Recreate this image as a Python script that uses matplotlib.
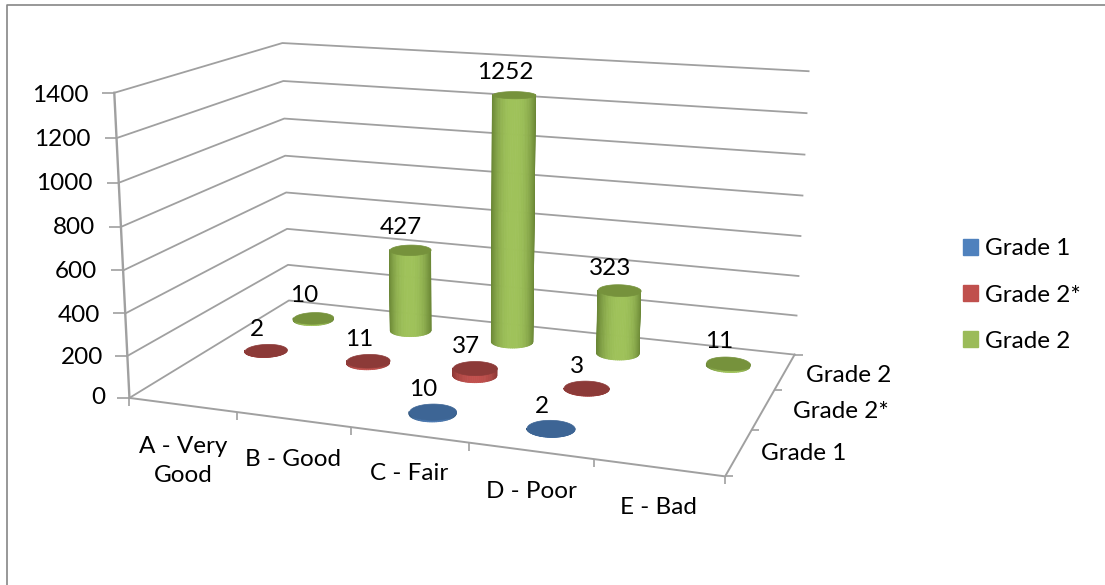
import numpy as np
import matplotlib
matplotlib.use("Agg")
import matplotlib.pyplot as plt
from matplotlib.colors import to_rgb
from matplotlib.lines import Line2D
from matplotlib.patches import Patch
from mpl_toolkits.mplot3d import proj3d
from mpl_toolkits.mplot3d.art3d import Poly3DCollection

plt.rcParams["font.family"] = ["Lato", "DejaVu Sans"]

categories = ["A - Very\nGood", "B - Good", "C - Fair", "D - Poor", "E - Bad"]
series_names = ["Grade 1", "Grade 2*", "Grade 2"]
grade_1 = [None, None, 10, 2, None]
grade_2_star = [2, 11, 37, 3, None]
grade_2 = [10, 427, 1252, 323, 11]
z_ticks = [0, 200, 400, 600, 800, 1000, 1200, 1400]

# colours: legend, side edge, side centre, top
legend_colors = ["#4f81bd", "#c0504d", "#9bbb59"]
edge_colors = ["#34597f", "#8c3836", "#6a8636"]
side_colors = ["#4a78b0", "#c0504d", "#9fc25a"]
top_colors = ["#3d6595", "#8c3a38", "#76923c"]
grid_color = "#a0a0a0"
frame_color = "#868686"
font_size = 17.5

W, H = 1105, 585
fig = plt.figure(figsize=(W / 100, H / 100), dpi=100)

# camera found by fitting the floor and wall corners of the reference
scale, cx, cy = 3966.7, 475.07, 231.65
side = scale * 0.185
left = cx - scale * 0.095
bottom = H - (cy + scale * 0.095)
ax = fig.add_axes([left / W, bottom / H, side / W, side / H], projection="3d", computed_zorder=False)
ax.view_init(14.15, -70.34, -0.11)
ax.set_proj_type("persp", focal_length=0.4358)
ax.set_box_aspect((1, 0.6082, 0.5119))
ax.set_axis_off()

n_x, n_y, z_max = len(categories), len(series_names), z_ticks[-1]
ax.set_xlim(0, n_x, view_margin=0)
ax.set_ylim(0, n_y, view_margin=0)
ax.set_zlim(0, z_max, view_margin=0)

# walls and floor
for z in z_ticks:
    ax.plot([0, 0, n_x], [0, n_y, n_y], [z, z, z], color=grid_color, lw=1.3, zorder=1)
ax.plot([0, n_x, n_x], [0, 0, n_y], [0, 0, 0], color=grid_color, lw=1.4, zorder=1)
ax.plot([0, 0], [0, 0], [0, z_max], color=grid_color, lw=1.7, zorder=1)

# tick marks
ax.plot([0] * len(z_ticks), [0] * len(z_ticks), z_ticks, ls="", marker=0, ms=9, mew=1.2, color=grid_color, zorder=1)
ax.plot(range(n_x + 1), [0] * (n_x + 1), [0] * (n_x + 1), ls="", marker=3, ms=6, mew=1.2, color=grid_color, zorder=1)
ax.plot([n_x] * (n_y + 1), range(n_y + 1), [0] * (n_y + 1), ls="", marker=1, ms=6, mew=1.2, color=grid_color, zorder=1)


def cylinder(x, y, value, series, order):
    rx, ry = 0.19, 0.19 * 0.986
    front = np.deg2rad(ax.azim)
    t = np.linspace(front - np.pi / 2, front + np.pi / 2, 37)
    xs = x + rx * np.cos(t)
    ys = y + ry * np.sin(t)
    strips = []
    colors = []
    for i in range(len(t) - 1):
        strips.append([(xs[i], ys[i], 0), (xs[i + 1], ys[i + 1], 0),
                       (xs[i + 1], ys[i + 1], value), (xs[i], ys[i], value)])
        w = abs(np.sin((t[i] + t[i + 1]) / 2 - front)) ** 2.5
        colors.append((1 - w) * np.array(to_rgb(side_colors[series])) + w * np.array(to_rgb(edge_colors[series])))
    ax.add_collection3d(Poly3DCollection(strips, facecolors=colors, edgecolors=colors, linewidths=0.6, zorder=order))
    a = np.linspace(0, 2 * np.pi, 61)
    cap = list(zip(x + rx * np.cos(a), y + ry * np.sin(a), np.full_like(a, value)))
    ax.add_collection3d(Poly3DCollection([cap], facecolors=top_colors[series], edgecolors=top_colors[series],
                                         linewidths=0.5, zorder=order + 0.5))


def value_label(x, y, value, dx, dy):
    px, py, _ = proj3d.proj_transform(x, y, value, ax.get_proj())
    ax.annotate(str(value), xy=(px, py), xytext=(dx, dy), textcoords="offset pixels", fontsize=font_size,
                color="black", ha="center", va="center", annotation_clip=False, zorder=50)


label_shift = {0: (-9, 22), 1: (-9, 21), 2: (-9, 22)}
series_values = [grade_1, grade_2_star, grade_2]
for s in range(n_y - 1, -1, -1):
    for c in range(n_x):
        value = series_values[s][c]
        if value is None:
            continue
        order = 10 + (n_y - s) * 10 + c
        cylinder(c + 0.5, s + 0.5, value, s, order)
        value_label(c + 0.5, s + 0.5, value, *label_shift[s])


def px_text(x, y, s, ha="center"):
    fig.text(x / W, 1 - (y + 2) / H, s, fontsize=font_size, color="black", ha=ha, va="center", linespacing=1.5)


# axis labels, placed where the reference puts them
z_label_y = [396, 356, 313, 269, 226, 182, 137, 93]
z_label_x = [105, 103, 100, 97, 95, 93, 91, 89]
for z, px, py in zip(z_ticks, z_label_x, z_label_y):
    px_text(px, py, str(z), ha="right")
cat_label_x = [183, 293, 409, 531, 658]
cat_label_y = [459, 458, 472, 489, 505]
for name, px, py in zip(categories, cat_label_x, cat_label_y):
    px_text(px, py, name)
row_label_x = [804, 841, 849]
row_label_y = [452, 410, 373]
for name, px, py in zip(series_names, row_label_x, row_label_y):
    px_text(px, py, name)

# legend
handles = [Patch(facecolor=c, edgecolor=c, label=n) for c, n in zip(legend_colors, series_names)]
fig.legend(handles=handles, loc="center left", bbox_to_anchor=(963 / W, 1 - 295 / H), frameon=False,
           fontsize=font_size, handlelength=0.62, handleheight=0.62, handletextpad=0.29,
           labelspacing=1.04, borderpad=0, borderaxespad=0)

# chart frame, cut by the image on the right and at the bottom
fig.add_artist(Line2D([7 / W, 7 / W, 1], [0, 1 - 4.5 / H, 1 - 4.5 / H], color=frame_color, lw=1.2))

fig.savefig("out.png", dpi=100)
